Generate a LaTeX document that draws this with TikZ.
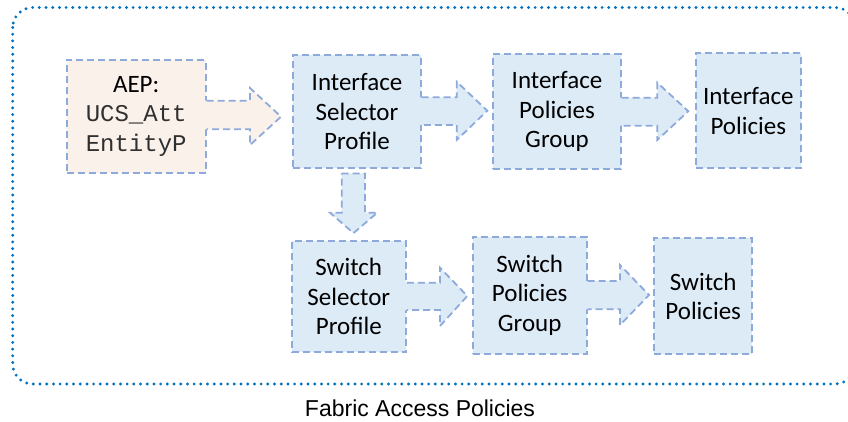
\documentclass[tikz,border=0pt]{standalone}
\usepackage{fontspec}
\setmainfont{Carlito}
\newfontfamily\monof{Liberation Mono}
\newfontfamily\labelf{Liberation Sans}
\usetikzlibrary{calc}
\definecolor{boxblue}{HTML}{DDEBF7}
\definecolor{peach}{HTML}{FBF1EB}
\definecolor{dashblue}{HTML}{8EAADB}
\definecolor{frameblue}{HTML}{0070C0}
\definecolor{codegray}{HTML}{303030}
\tikzset{
  dashline/.style={draw=dashblue, line width=1.8pt, dash pattern=on 7pt off 4pt, line join=miter},
  box/.style={dashline, fill=boxblue, inner sep=0pt, align=center,
    font=\fontsize{25}{29.5}\selectfont},
  aepbox/.style={box, fill=peach},
  framing/.style={draw=frameblue, line width=3.2pt, line cap=round, dash pattern=on 0pt off 6.7pt, rounded corners=20pt},
}
\begin{document}
\begin{tikzpicture}[x=1pt, y=-1pt]
\useasboundingbox (0,0) rectangle (848,422);
\begin{scope}
\clip (0,0) rectangle (848,422);
\draw[framing] (12.7,7.5) rectangle (855,384);
\end{scope}

% boxes
\node[aepbox, minimum width=139pt, minimum height=112.7pt] (aep) at (136.2,116.3)
  {AEP:\\{\monof\color{codegray}\fontsize{24}{29.5}\selectfont UCS\_Att}\\{\monof\color{codegray}\fontsize{24}{29.5}\selectfont EntityP}};
\node[box, minimum width=127.4pt, minimum height=113.3pt] (isp) at (357,111.7) {Interface\\Selector\\Profile};
\node[box, minimum width=127.4pt, minimum height=115.3pt] (ipg) at (557,111.7) {Interface\\Policies\\Group};
\node[box, minimum width=104.7pt, minimum height=115pt] (ip) at (748.3,110.8) {Interface\\Policies};
\node[box, minimum width=114.3pt, minimum height=111.6pt] (ssp) at (348.8,296.5) {Switch\\Selector\\Profile};
\node[box, minimum width=114pt, minimum height=117.3pt] (spg) at (529.7,295.3) {Switch\\Policies\\Group};
\node[box, minimum width=98.3pt, minimum height=115.7pt] (sp) at (703.2,296.2) {Switch\\Policies};

% block arrows leaving a box to the right: #1 box, #2 fill, #3/#4 shaft top/bottom,
% #5 head x, #6/#7 head top/bottom, #8 tip x, #9 tip y
\newcommand\blockarrow[9]{%
  \fill[#2] ($(#1.east |- 0,#3)+(-2,0)$) -- (#5,#3) -- (#5,#6) -- (#8,#9) -- (#5,#7) -- (#5,#4) -- ($(#1.east |- 0,#4)+(-2,0)$) -- cycle;
  \draw[dashline] (#1.east |- 0,#3) -- (#5,#3) -- (#5,#6) -- (#8,#9) -- (#5,#7) -- (#5,#4) -- (#1.east |- 0,#4);
}
\blockarrow{aep}{peach}{100.7}{129.3}{250}{88}{145}{281}{116.7}
\blockarrow{isp}{boxblue}{97.3}{125}{456.7}{81.7}{140}{487.3}{110.7}
\blockarrow{ipg}{boxblue}{97.7}{125.7}{657.3}{82.7}{140}{688.3}{111.2}
\blockarrow{ssp}{boxblue}{282.7}{310}{440}{267.7}{326}{467.3}{296}
\blockarrow{spg}{boxblue}{281}{309.3}{620}{265}{325}{649}{295}

% downward arrow from the interface selector to the switch selector
\coordinate (dtip) at ($(ssp.north)+(4.7,-6.7)$);
\draw[dashline, fill=boxblue] (341.7,173.5) -- (365,173.5) -- (365,212.7) -- (377.3,212.7)
  -- (dtip) -- (330,212.7) -- (341.7,212.7) -- cycle;

\node[font=\labelf\fontsize{23}{27}\selectfont, inner sep=0pt] (title) at (420,408) {Fabric Access Policies};
\end{tikzpicture}
\end{document}
